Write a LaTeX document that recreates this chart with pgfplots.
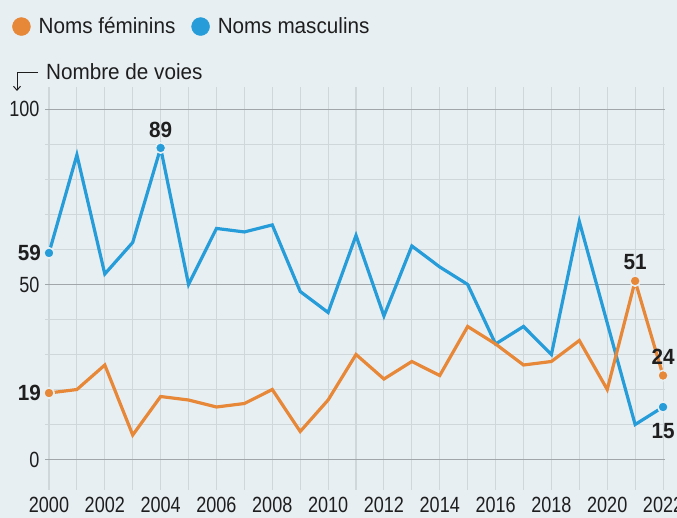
\documentclass[border=0pt]{standalone}
\usepackage{pgfplots}
\pgfplotsset{compat=1.18}
\usepackage{fontspec}
\setmainfont[FakeStretch=0.94]{Liberation Sans}
\newfontfamily\numfont[FakeStretch=0.82]{Liberation Sans}
\usetikzlibrary{arrows.meta}
\definecolor{bgc}{RGB}{232,239,243}
\definecolor{orangeF}{RGB}{231,136,56}
\definecolor{blueM}{RGB}{38,157,217}
\definecolor{gridlight}{RGB}{208,215,219}
\definecolor{griddark}{RGB}{160,166,170}
\definecolor{txt}{RGB}{30,30,30}
\begin{document}
\begin{tikzpicture}[x=1pt,y=1pt]
\fill[bgc] (0,0) rectangle (677,518);
\useasboundingbox (0,0) rectangle (677,518);
\begin{axis}[
  at={(45pt,28pt)}, anchor=south west,
  scale only axis, width=620pt, height=403pt,
  xmin=1999.857, xmax=2022.07, ymin=-8.7, ymax=106.4,
  axis line style={draw=none},
  clip=false,
  xtick={2000,2002,...,2022}, minor xtick={2001,2003,...,2021},
  ytick={0,50,100}, minor ytick={10,20,30,40,60,70,80,90},
  major tick length=0pt, minor tick length=0pt,
  grid=both,
  major x grid style={gridlight, line width=1.1pt},
  minor x grid style={gridlight, line width=1.1pt},
  major y grid style={griddark, line width=1.2pt},
  minor y grid style={gridlight, line width=1.1pt},
  /pgf/number format/assume math mode=true,
  /pgf/number format/1000 sep={},
  ticklabel style={font=\numfont\fontsize{22}{24}\selectfont, text=txt},
  yticklabel style={xshift=-2pt},
  xticklabel style={yshift=-4pt},
  legend style={at={(axis description cs:-0.058,1.150)}, anchor=west, draw=none, fill=none,
    font=\fontsize{22}{24}\selectfont, text=txt, legend columns=2,
    /tikz/every odd column/.append style={column sep=6pt},
    /tikz/every even column/.append style={column sep=14pt},
    legend cell align=left},
  legend image code/.code={\fill (0pt,0pt) circle (9pt);},
]
\addlegendimage{color=orangeF}
\addlegendentry{Noms féminins}
\addlegendimage{color=blueM}
\addlegendentry{Noms masculins}

\addplot[blueM, line width=3.2pt, forget plot] table {
x y
2000 59
2001 87
2002 53
2003 62
2004 89
2005 50
2006 66
2007 65
2008 67
2009 48
2010 42
2011 64
2012 41
2013 61
2014 55
2015 50
2016 33
2017 38
2018 30
2019 68
2020 39
2021 10
2022 15
};
\addplot[orangeF, line width=3.2pt, forget plot] table {
x y
2000 19
2001 20
2002 27
2003 7
2004 18
2005 17
2006 15
2007 16
2008 20
2009 8
2010 17
2011 30
2012 23
2013 28
2014 24
2015 38
2016 33
2017 27
2018 28
2019 34
2020 20
2021 51
2022 24
};
\addplot[only marks, mark=*, mark size=5.2pt, forget plot,
  mark options={draw=bgc, fill=blueM, line width=1.6pt}] coordinates {(2000,59) (2004,89) (2022,15)};
\addplot[only marks, mark=*, mark size=5.2pt, forget plot,
  mark options={draw=bgc, fill=orangeF, line width=1.6pt}] coordinates {(2000,19) (2021,51) (2022,24)};

\begin{scope}[every node/.style={font=\bfseries\fontsize{22}{24}\selectfont, text=txt, inner sep=0pt}]
\node[anchor=east, xshift=-8pt] at (axis cs:2000,59) {59};
\node[anchor=east, xshift=-8pt] at (axis cs:2000,19) {19};
\node[anchor=south, yshift=10pt] at (axis cs:2004,89) {89};
\node[anchor=south, yshift=11pt] at (axis cs:2021,51) {51};
\node[anchor=south, yshift=11pt] at (axis cs:2022,24) {24};
\node[anchor=north, yshift=-16pt] at (axis cs:2022,15) {15};
\end{scope}
\end{axis}
\draw[txt, line width=1pt, -{Straight Barb[length=4pt,width=7pt]}] (38,445) -- (17,445) -- (17,427);
\node[anchor=west, inner sep=0pt, text=txt, font=\fontsize{22}{24}\selectfont] at (46,446) {Nombre de voies};
\end{tikzpicture}
\end{document}
